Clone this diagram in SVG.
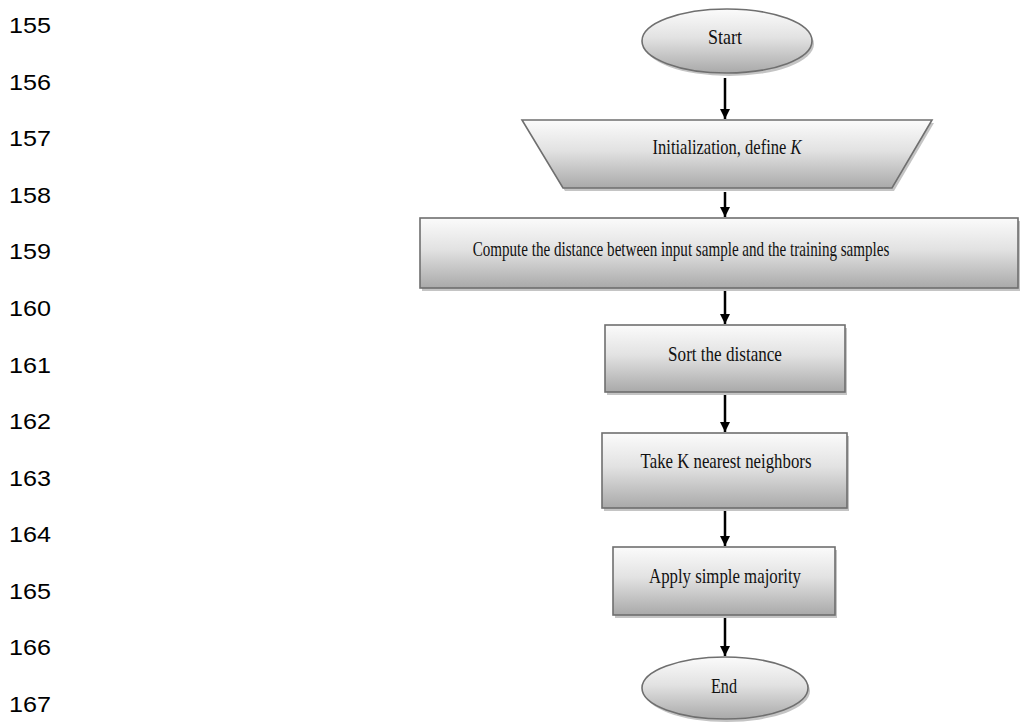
<svg xmlns="http://www.w3.org/2000/svg" width="1022" height="724" viewBox="0 0 1022 724">
<defs>
<linearGradient id="g" x1="0" y1="0" x2="0" y2="1">
<stop offset="0" stop-color="#fbfbfb"/>
<stop offset="0.45" stop-color="#e2e2e2"/>
<stop offset="1" stop-color="#a9a9a9"/>
</linearGradient>
<marker id="ah" viewBox="0 0 10 10" refX="10" refY="5" markerWidth="4" markerHeight="4.6" orient="auto" markerUnits="strokeWidth">
<path d="M0,0 L10,5 L0,10 Z" fill="#000"/>
</marker>
<style>
.ln{font-family:"Liberation Sans",Arial,sans-serif;font-size:22px;fill:#000}
.sh{fill:#c4c4c4;stroke:none}
.nd{fill:url(#g);stroke:#6f6f6f;stroke-width:1.6}
.tx{font-family:"Liberation Serif","Times New Roman",serif;font-size:21px;fill:#111;text-anchor:middle}
.cn{stroke:#000;stroke-width:2.5;fill:none;marker-end:url(#ah)}
</style>
</defs>
<rect width="1022" height="724" fill="#fff"/>
<g id="line-numbers">
<text class="ln" x="9" y="33" textLength="42" lengthAdjust="spacingAndGlyphs">155</text>
<text class="ln" x="9" y="89.6" textLength="42" lengthAdjust="spacingAndGlyphs">156</text>
<text class="ln" x="9" y="146.2" textLength="42" lengthAdjust="spacingAndGlyphs">157</text>
<text class="ln" x="9" y="202.7" textLength="42" lengthAdjust="spacingAndGlyphs">158</text>
<text class="ln" x="9" y="259.3" textLength="42" lengthAdjust="spacingAndGlyphs">159</text>
<text class="ln" x="9" y="315.9" textLength="42" lengthAdjust="spacingAndGlyphs">160</text>
<text class="ln" x="9" y="372.5" textLength="42" lengthAdjust="spacingAndGlyphs">161</text>
<text class="ln" x="9" y="429.1" textLength="42" lengthAdjust="spacingAndGlyphs">162</text>
<text class="ln" x="9" y="485.6" textLength="42" lengthAdjust="spacingAndGlyphs">163</text>
<text class="ln" x="9" y="542.2" textLength="42" lengthAdjust="spacingAndGlyphs">164</text>
<text class="ln" x="9" y="598.8" textLength="42" lengthAdjust="spacingAndGlyphs">165</text>
<text class="ln" x="9" y="655.4" textLength="42" lengthAdjust="spacingAndGlyphs">166</text>
<text class="ln" x="9" y="712" textLength="42" lengthAdjust="spacingAndGlyphs">167</text>
</g>
<g id="connectors">
<line class="cn" x1="725" y1="78" x2="725" y2="119"/>
<line class="cn" x1="725" y1="192" x2="725" y2="217"/>
<line class="cn" x1="725" y1="291" x2="725" y2="324"/>
<line class="cn" x1="725" y1="394" x2="725" y2="432"/>
<line class="cn" x1="725" y1="510" x2="725" y2="546"/>
<line class="cn" x1="725" y1="617" x2="725" y2="656"/>
</g>
<g id="start">
<ellipse class="sh" cx="729" cy="44" rx="85" ry="32"/>
<ellipse class="nd" cx="727" cy="41" rx="85" ry="32"/>
<text class="tx" transform="translate(725,44) scale(0.857,1)">Start</text>
</g>
<g id="init">
<polygon class="sh" points="524,123 934,123 894,191 565,191"/>
<polygon class="nd" points="522,120 932,120 892,188 563,188"/>
<text class="tx" transform="translate(727,154) scale(0.786,1)">Initialization, define <tspan font-style="italic">K</tspan></text>
</g>
<g id="compute">
<rect class="sh" x="422" y="221" width="598" height="70"/>
<rect class="nd" x="420" y="218" width="598" height="70"/>
<text class="tx" transform="translate(681,256) scale(0.719,1)">Compute the distance between input sample and the training samples</text>
</g>
<g id="sort">
<rect class="sh" x="607" y="328" width="240" height="67"/>
<rect class="nd" x="605" y="325" width="240" height="67"/>
<text class="tx" transform="translate(725,361) scale(0.814,1)">Sort the distance</text>
</g>
<g id="take">
<rect class="sh" x="604" y="436" width="245" height="75"/>
<rect class="nd" x="602" y="433" width="245" height="75"/>
<text class="tx" transform="translate(726,468) scale(0.8,1)">Take K nearest neighbors</text>
</g>
<g id="apply">
<rect class="sh" x="615" y="550" width="222" height="68"/>
<rect class="nd" x="613" y="547" width="222" height="68"/>
<text class="tx" transform="translate(725,583) scale(0.8,1)">Apply simple majority</text>
</g>
<g id="end">
<ellipse class="sh" cx="727" cy="691" rx="83" ry="31"/>
<ellipse class="nd" cx="725" cy="688" rx="83" ry="31"/>
<text class="tx" transform="translate(724,693) scale(0.77,1)">End</text>
</g>
</svg>
